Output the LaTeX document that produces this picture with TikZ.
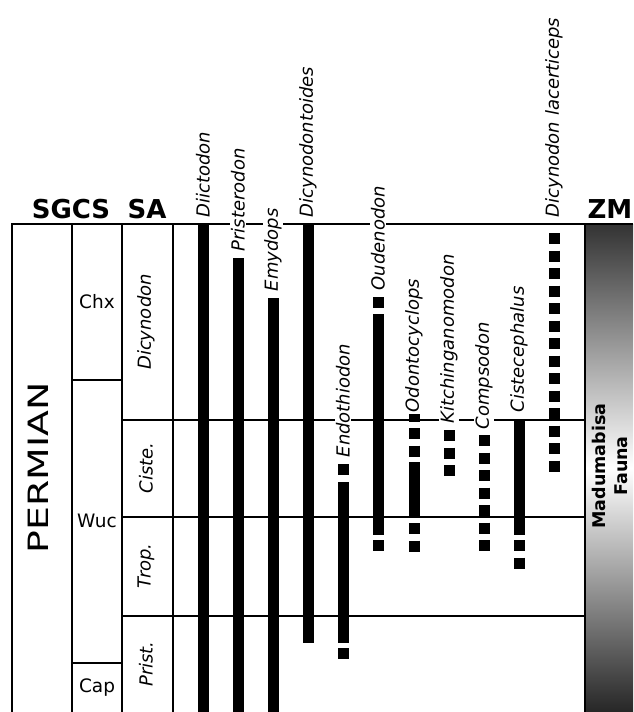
\documentclass[tikz,border=0pt]{standalone}
\usepackage{fontspec}
\setmainfont{DejaVu Sans}
\tikzset{
	frameline/.style={line width=2.2pt},
	taxonbar/.style={line width=11pt},
	taxondash/.style={line width=11pt, dash pattern=on 11pt off 6.5pt},
	taxon/.style={rotate=90, anchor=west, fill=white, inner sep=1.5pt, font=\fontsize{18}{20}\selectfont\itshape},
	sazone/.style={rotate=90, font=\fontsize{18}{20}\selectfont\itshape},
	stage/.style={font=\fontsize{18.5}{20}\selectfont},
	header/.style={anchor=base, font=\fontsize{26}{28}\selectfont\bfseries}
}
\begin{document}
\begin{tikzpicture}[x=1pt, y=-1pt]
		\useasboundingbox (0,0) rectangle (633,712);
		\clip (0,0) rectangle (633,712);
		% ZM column
		\shade[top color=black!80, bottom color=black!85, middle color=white] (585,224) rectangle (633,712);
		% frame
		\draw[frameline] (12,712) -- (12,224) -- (633,224);
		\draw[frameline] (72,224) -- (72,712);
		\draw[frameline] (122,224) -- (122,712);
		\draw[frameline] (173,224) -- (173,712);
		\draw[frameline] (585,224) -- (585,712);
		\draw[frameline] (72,380) -- (122,380);
		\draw[frameline] (72,663) -- (122,663);
		\draw[frameline] (122,420) -- (585,420);
		\draw[frameline] (122,517) -- (585,517);
		\draw[frameline] (122,616) -- (585,616);
		% ranges
		\draw[taxonbar] (203,224) -- (203,712);
		\draw[taxonbar] (238,258) -- (238,712);
		\draw[taxonbar] (273,298) -- (273,712);
		\draw[taxonbar] (308,224) -- (308,643);
		\draw[taxondash] (343,464) -- (343,475);
		\draw[taxonbar] (343,482) -- (343,643);
		\draw[taxondash] (343,648) -- (343,660);
		\draw[taxondash] (378,297) -- (378,308);
		\draw[taxonbar] (378,314) -- (378,535);
		\draw[taxondash] (378,540) -- (378,552);
		\draw[taxondash] (414,410.5) -- (414,457);
		\draw[taxonbar] (414,462) -- (414,517);
		\draw[taxondash] (414,523) -- (414,552);
		\draw[taxondash] (449,430) -- (449,477);
		\draw[taxondash] (484,435) -- (484,551);
		\draw[taxonbar] (519,420) -- (519,535);
		\draw[taxondash] (519,540) -- (519,569);
		\draw[taxondash] (554,233) -- (554,471.5);
		% taxa
		\node[taxon] (diic)	at (203,219) 	{Diictodon};
		\node[taxon] (pris)	at (238,253) 	{Pristerodon};
		\node[taxon] (emyd)	at (273,293) 	{Emydops};
		\node[taxon] (dtoi)	at (308,219) 	{Dicynodontoides};
		\node[taxon] (endo)	at (343,459) 	{Endothiodon};
		\node[taxon] (oude)	at (378,292) 	{Oudenodon};
		\node[taxon] (odon)	at (414,414) 	{Odontocyclops};
		\node[taxon] (kitc)	at (449,425) 	{Kitchinganomodon};
		\node[taxon] (comp)	at (484,431) 	{Compsodon};
		\node[taxon] (cist)	at (519,414) 	{Cistecephalus};
		\node[taxon] (dlac)	at (554,219) 	{Dicynodon lacerticeps};
		% columns
		\node[header] (sgcs)	at (71,218) 	{SGCS};
		\node[header] (sa)	at (147,218) 	{SA};
		\node[header] (zm)	at (610,218) 	{ZM};
		\node[rotate=90, font=\fontsize{28}{30}\selectfont] (perm)	at (38,468) 	{\scalebox{1.35}[1]{PERMIAN}};
		\node[stage] (chx)	at (97,302) 	{Chx};
		\node[stage] (wuc)	at (97,521) 	{Wuc};
		\node[stage] (cap)	at (97,688) 	{Cap};
		\node[sazone] (dicy)	at (146,322) 	{Dicynodon};
		\node[sazone] (ciste)	at (146,468) 	{Ciste.};
		\node[sazone] (trop)	at (146,566) 	{Trop.};
		\node[sazone] (prist)	at (146,664) 	{Prist.};
		\node[rotate=90, align=center, font=\fontsize{17.5}{22}\selectfont\bfseries] (fauna)	at (610,466) 	{Madumabisa\\Fauna};
	\end{tikzpicture}
\end{document}
